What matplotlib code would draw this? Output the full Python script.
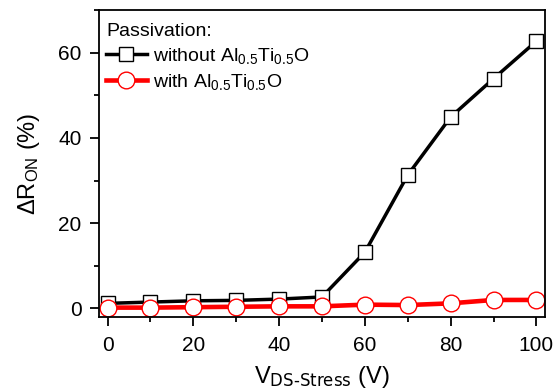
import matplotlib
matplotlib.use("Agg")
import matplotlib.pyplot as plt
from matplotlib.ticker import MultipleLocator

plt.rcParams['font.family'] = ['Liberation Sans', 'DejaVu Sans']
plt.rcParams['mathtext.default'] = 'regular'

v_stress = [0, 10, 20, 30, 40, 50, 60, 70, 80, 90, 100]
without_alto = [1.2, 1.5, 1.8, 1.9, 2.2, 2.7, 13.2, 31.3, 44.9, 53.9, 62.7]
with_alto = [0.2, 0.2, 0.3, 0.4, 0.5, 0.5, 0.9, 0.8, 1.2, 2.0, 2.0]

fig = plt.figure(figsize=(5.56, 3.9), dpi=100)
ax = fig.add_axes([99 / 556, 73 / 390, 446 / 556, 307 / 390])

ax.plot(v_stress, without_alto, color='black', lw=2.5, marker='s', ms=10,
        mfc='white', mec='black', mew=1.0, label='without Al$_{0.5}$Ti$_{0.5}$O')
ax.plot(v_stress, with_alto, color='red', lw=3.3, marker='o', ms=12,
        mfc='white', mec='red', mew=1.0, label='with Al$_{0.5}$Ti$_{0.5}$O')

ax.set_xlim(-2, 102)
ax.set_ylim(-2, 70)
ax.xaxis.set_major_locator(MultipleLocator(20))
ax.xaxis.set_minor_locator(MultipleLocator(10))
ax.yaxis.set_major_locator(MultipleLocator(20))
ax.yaxis.set_minor_locator(MultipleLocator(10))
ax.tick_params(which='both', direction='out', width=1.3, labelsize=15)
ax.tick_params(which='major', length=6.5)
ax.tick_params(which='minor', length=3.3)
ax.tick_params(axis='y', pad=6)
ax.tick_params(axis='x', pad=7)
for s in ax.spines.values():
    s.set_linewidth(1.3)

ax.set_xlabel(r'V$_{\text{DS-Stress}}$ (V)', fontsize=17, labelpad=7)
ax.set_ylabel(r'$\Delta$R$_{ON}$ (%)', fontsize=17, labelpad=12)

leg = ax.legend(title='Passivation:', loc='upper left', bbox_to_anchor=(0.007, 0.97),
                frameon=False, fontsize=14, title_fontsize=14, handlelength=2.1,
                handletextpad=0.3, borderaxespad=0, borderpad=0.2, labelspacing=0.3)
leg._legend_box.align = 'left'

fig.savefig('out.png', dpi=100)
